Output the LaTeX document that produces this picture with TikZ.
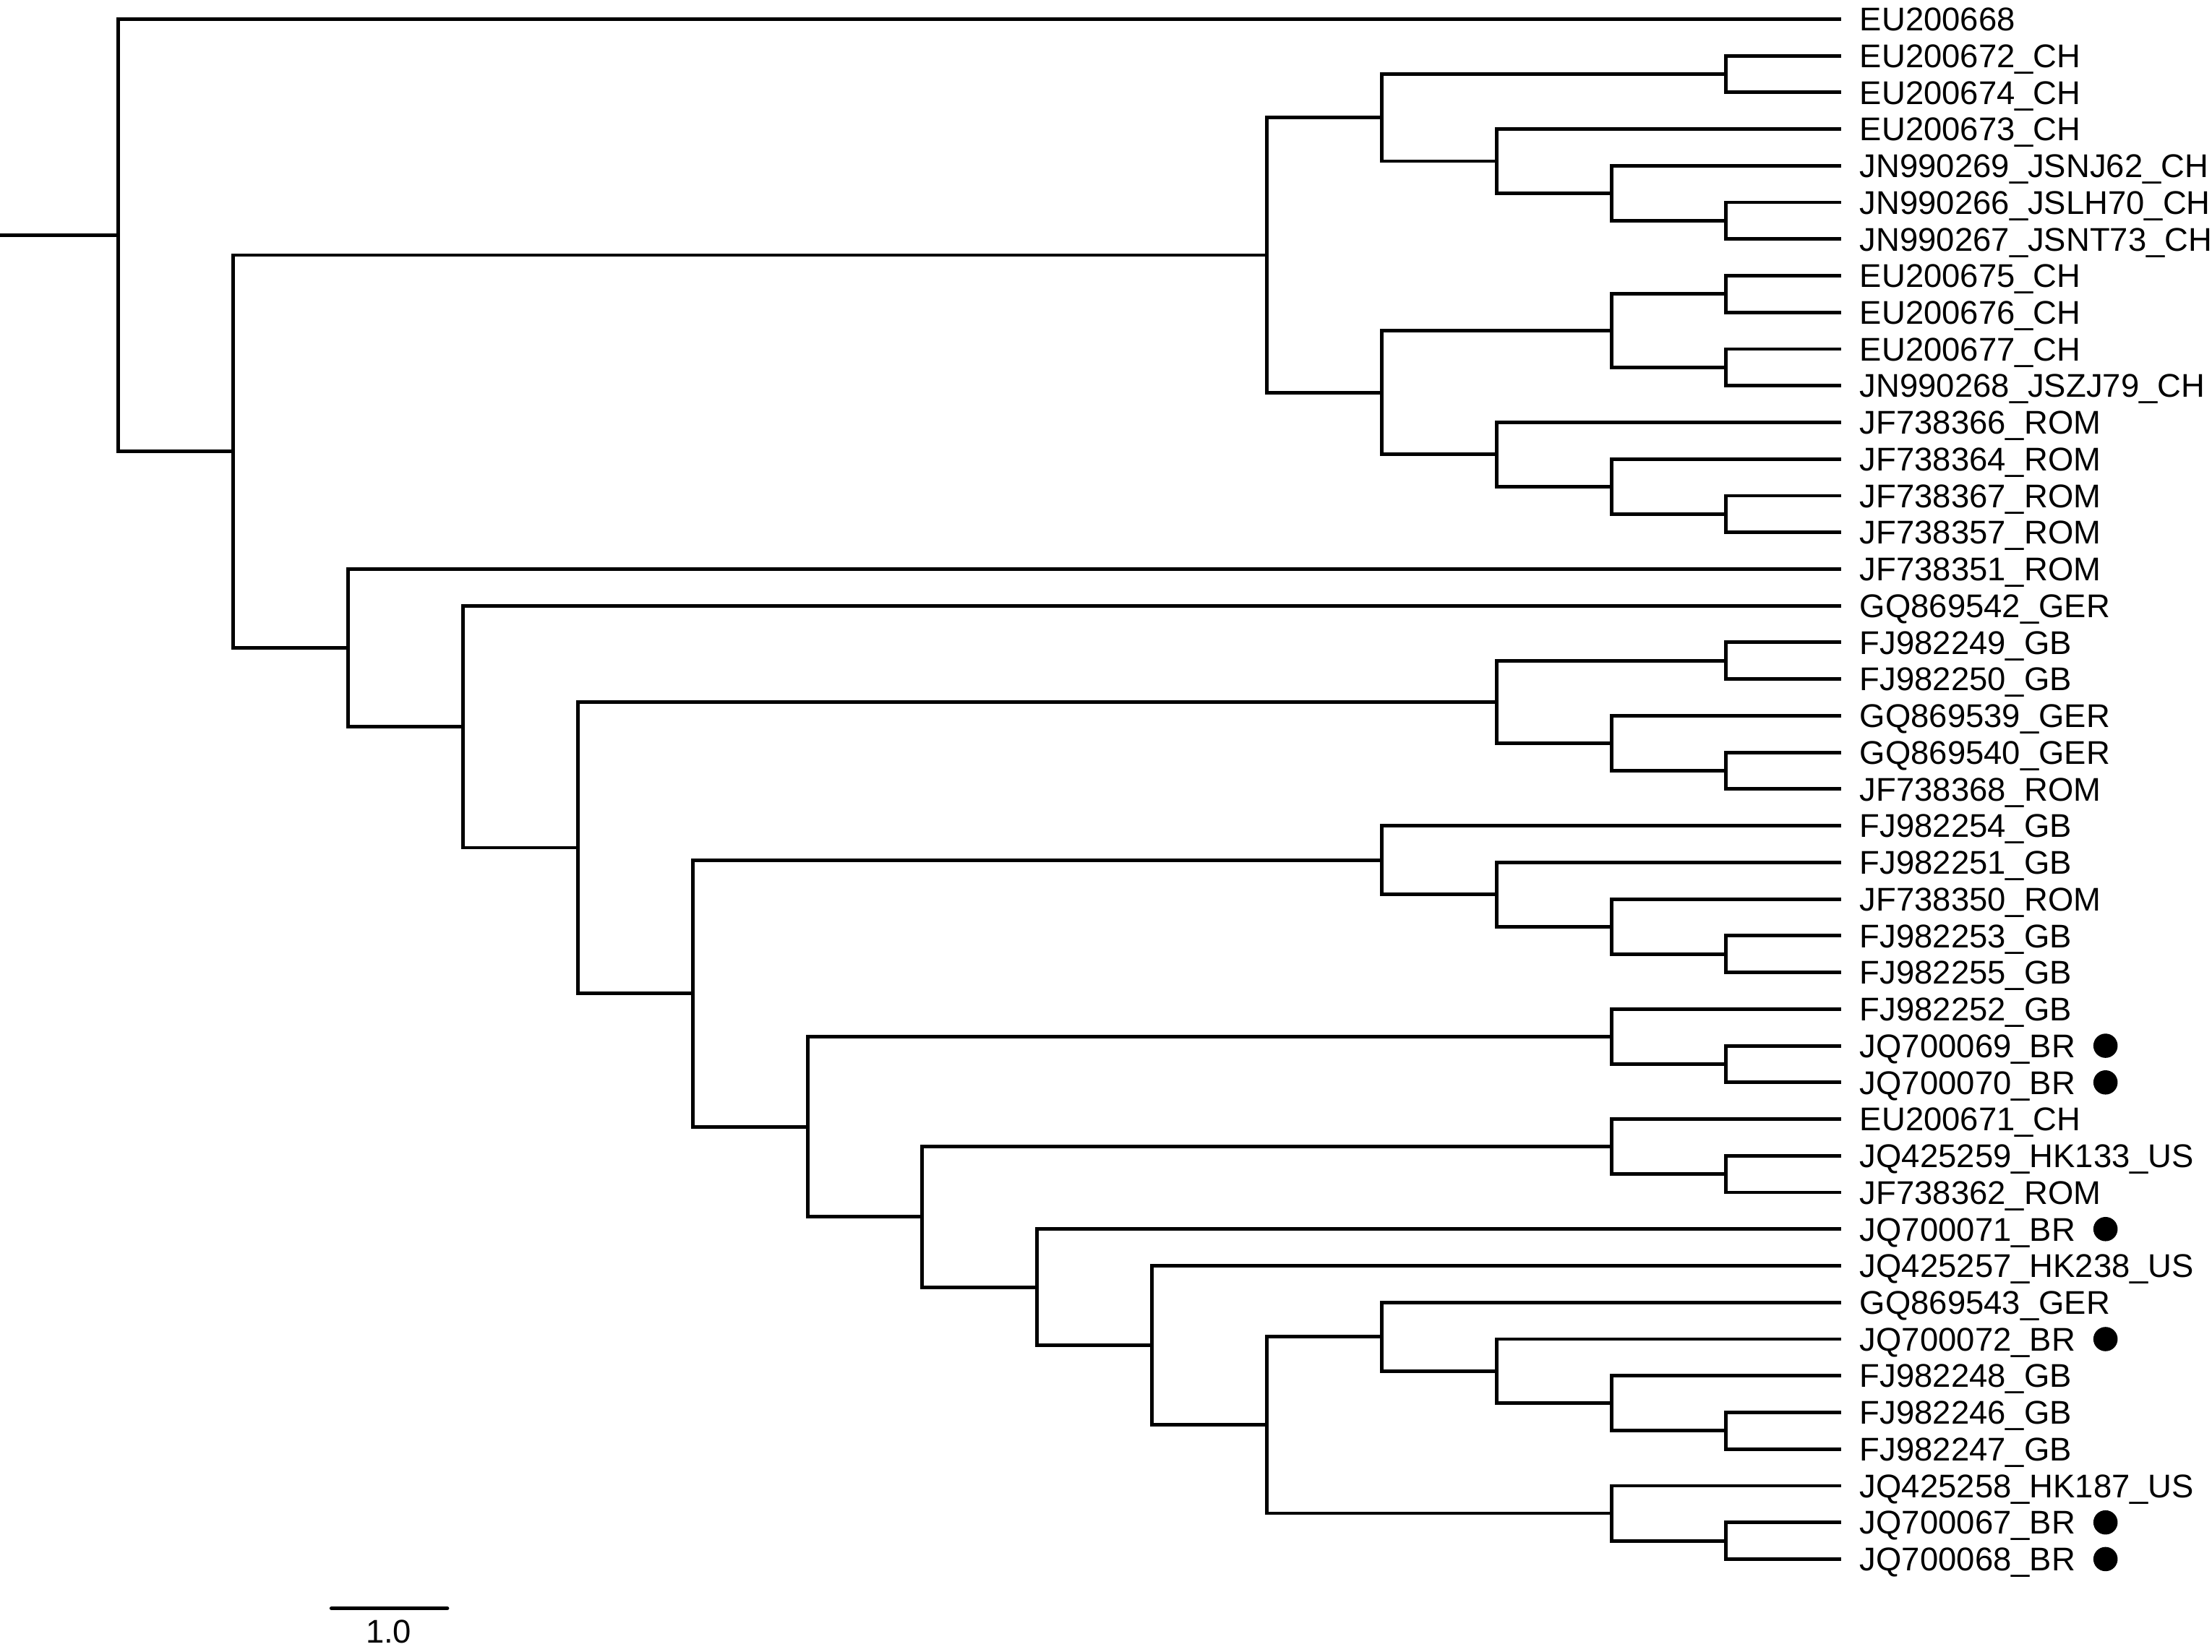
\documentclass[tikz,border=0pt]{standalone}
\usepackage{fontspec}
\setmainfont{Liberation Sans}
\begin{document}
\begin{tikzpicture}[x=0.5pt,y=-0.5pt,
  edge/.style={line width=1.25pt, line join=miter},
  lab/.style={anchor=west, inner xsep=6.5pt, inner ysep=0pt, text height=8.33pt, text depth=0pt, font=\fontsize{11.64}{14}\selectfont},
  dotnode/.style={circle, fill=black, inner sep=0pt, minimum size=8.6pt},
  barlab/.style={anchor=base, inner sep=0pt, font=\fontsize{11.64}{14}\selectfont}]
\useasboundingbox (0,0) rectangle (1568,1171);
\begin{scope}[shift={(0,0.5)}]
% leaves
\foreach \i/\t in {1/EU200668, 2/EU200672\_CH, 3/EU200674\_CH, 4/EU200673\_CH, 5/JN990269\_JSNJ62\_CH,
  6/JN990266\_JSLH70\_CH, 7/JN990267\_JSNT73\_CH, 8/EU200675\_CH, 9/EU200676\_CH, 10/EU200677\_CH,
  11/JN990268\_JSZJ79\_CH, 12/JF738366\_ROM, 13/JF738364\_ROM, 14/JF738367\_ROM, 15/JF738357\_ROM,
  16/JF738351\_ROM, 17/GQ869542\_GER, 18/FJ982249\_GB, 19/FJ982250\_GB, 20/GQ869539\_GER,
  21/GQ869540\_GER, 22/JF738368\_ROM, 23/FJ982254\_GB, 24/FJ982251\_GB, 25/JF738350\_ROM,
  26/FJ982253\_GB, 27/FJ982255\_GB, 28/FJ982252\_GB, 29/JQ700069\_BR, 30/JQ700070\_BR,
  31/EU200671\_CH, 32/JQ425259\_HK133\_US, 33/JF738362\_ROM, 34/JQ700071\_BR, 35/JQ425257\_HK238\_US,
  36/GQ869543\_GER, 37/JQ700072\_BR, 38/FJ982248\_GB, 39/FJ982246\_GB, 40/FJ982247\_GB,
  41/JQ425258\_HK187\_US, 42/JQ700067\_BR, 43/JQ700068\_BR}{
  \coordinate (t\i) at (1305,{13+26*(\i-1)});
  \node[lab] (lab\i) at (t\i) {\t};
}
% marked leaves
\foreach \i in {29,30,34,37,42,43}{
  \node[dotnode] (d\i) at (1492.5,{13+26*(\i-1)}) {};
}
% internal nodes
\coordinate (stub) at (0,166.3);
\coordinate (root) at (84,166.3);
\coordinate (a2x43) at (165.4,319.64);
\coordinate (a2x15) at (898,180.375);
\coordinate (a2x7) at (979.4,82.875);
\coordinate (a2x3) at (1223.6,52);
\coordinate (a4x7) at (1060.8,113.75);
\coordinate (a5x7) at (1142.2,136.5);
\coordinate (a6x7) at (1223.6,156);
\coordinate (a8x15) at (979.4,277.875);
\coordinate (a8x11) at (1142.2,234);
\coordinate (a8x9) at (1223.6,208);
\coordinate (a10x11) at (1223.6,260);
\coordinate (a12x15) at (1060.8,321.75);
\coordinate (a13x15) at (1142.2,344.5);
\coordinate (a14x15) at (1223.6,364);
\coordinate (a16x43) at (246.8,458.9);
\coordinate (a17x43) at (328.2,514.79);
\coordinate (a18x43) at (409.6,600.58);
\coordinate (a18x22) at (1060.8,497.25);
\coordinate (a18x19) at (1223.6,468);
\coordinate (a20x22) at (1142.2,526.5);
\coordinate (a21x22) at (1223.6,546);
\coordinate (a23x43) at (491,703.9);
\coordinate (a23x27) at (979.4,609.375);
\coordinate (a24x27) at (1060.8,633.75);
\coordinate (a25x27) at (1142.2,656.5);
\coordinate (a26x27) at (1223.6,676);
\coordinate (a28x43) at (572.4,798.43);
\coordinate (a28x30) at (1142.2,734.5);
\coordinate (a29x30) at (1223.6,754);
\coordinate (a31x43) at (653.8,862.37);
\coordinate (a31x33) at (1142.2,812.5);
\coordinate (a32x33) at (1223.6,832);
\coordinate (a34x43) at (735.2,912.23);
\coordinate (a35x43) at (816.6,953.47);
\coordinate (a36x43) at (898,1009.94);
\coordinate (a36x40) at (979.4,947.375);
\coordinate (a37x40) at (1060.8,971.75);
\coordinate (a38x40) at (1142.2,994.5);
\coordinate (a39x40) at (1223.6,1014);
\coordinate (a41x43) at (1142.2,1072.5);
\coordinate (a42x43) at (1223.6,1092);
% edges
\draw[edge] (stub) -- (root);
\draw[edge] (root) |- (t1);
\draw[edge] (root) |- (a2x43);
\draw[edge] (a2x43) |- (a2x15);
\draw[edge] (a2x43) |- (a16x43);
% CH / ROM clade
\draw[edge] (a2x15) |- (a2x7);
\draw[edge] (a2x15) |- (a8x15);
\draw[edge] (a2x7) |- (a2x3);
\draw[edge] (a2x7) |- (a4x7);
\draw[edge] (a2x3) |- (t2);
\draw[edge] (a2x3) |- (t3);
\draw[edge] (a4x7) |- (t4);
\draw[edge] (a4x7) |- (a5x7);
\draw[edge] (a5x7) |- (t5);
\draw[edge] (a5x7) |- (a6x7);
\draw[edge] (a6x7) |- (t6);
\draw[edge] (a6x7) |- (t7);
\draw[edge] (a8x15) |- (a8x11);
\draw[edge] (a8x15) |- (a12x15);
\draw[edge] (a8x11) |- (a8x9);
\draw[edge] (a8x11) |- (a10x11);
\draw[edge] (a8x9) |- (t8);
\draw[edge] (a8x9) |- (t9);
\draw[edge] (a10x11) |- (t10);
\draw[edge] (a10x11) |- (t11);
\draw[edge] (a12x15) |- (t12);
\draw[edge] (a12x15) |- (a13x15);
\draw[edge] (a13x15) |- (t13);
\draw[edge] (a13x15) |- (a14x15);
\draw[edge] (a14x15) |- (t14);
\draw[edge] (a14x15) |- (t15);
% lower part
\draw[edge] (a16x43) |- (t16);
\draw[edge] (a16x43) |- (a17x43);
\draw[edge] (a17x43) |- (t17);
\draw[edge] (a17x43) |- (a18x43);
\draw[edge] (a18x43) |- (a18x22);
\draw[edge] (a18x43) |- (a23x43);
\draw[edge] (a18x22) |- (a18x19);
\draw[edge] (a18x22) |- (a20x22);
\draw[edge] (a18x19) |- (t18);
\draw[edge] (a18x19) |- (t19);
\draw[edge] (a20x22) |- (t20);
\draw[edge] (a20x22) |- (a21x22);
\draw[edge] (a21x22) |- (t21);
\draw[edge] (a21x22) |- (t22);
\draw[edge] (a23x43) |- (a23x27);
\draw[edge] (a23x43) |- (a28x43);
\draw[edge] (a23x27) |- (t23);
\draw[edge] (a23x27) |- (a24x27);
\draw[edge] (a24x27) |- (t24);
\draw[edge] (a24x27) |- (a25x27);
\draw[edge] (a25x27) |- (t25);
\draw[edge] (a25x27) |- (a26x27);
\draw[edge] (a26x27) |- (t26);
\draw[edge] (a26x27) |- (t27);
\draw[edge] (a28x43) |- (a28x30);
\draw[edge] (a28x43) |- (a31x43);
\draw[edge] (a28x30) |- (t28);
\draw[edge] (a28x30) |- (a29x30);
\draw[edge] (a29x30) |- (t29);
\draw[edge] (a29x30) |- (t30);
\draw[edge] (a31x43) |- (a31x33);
\draw[edge] (a31x43) |- (a34x43);
\draw[edge] (a31x33) |- (t31);
\draw[edge] (a31x33) |- (a32x33);
\draw[edge] (a32x33) |- (t32);
\draw[edge] (a32x33) |- (t33);
\draw[edge] (a34x43) |- (t34);
\draw[edge] (a34x43) |- (a35x43);
\draw[edge] (a35x43) |- (t35);
\draw[edge] (a35x43) |- (a36x43);
\draw[edge] (a36x43) |- (a36x40);
\draw[edge] (a36x43) |- (a41x43);
\draw[edge] (a36x40) |- (t36);
\draw[edge] (a36x40) |- (a37x40);
\draw[edge] (a37x40) |- (t37);
\draw[edge] (a37x40) |- (a38x40);
\draw[edge] (a38x40) |- (t38);
\draw[edge] (a38x40) |- (a39x40);
\draw[edge] (a39x40) |- (t39);
\draw[edge] (a39x40) |- (t40);
\draw[edge] (a41x43) |- (t41);
\draw[edge] (a41x43) |- (a42x43);
\draw[edge] (a42x43) |- (t42);
\draw[edge] (a42x43) |- (t43);
\end{scope}
% scale bar
\coordinate (barL) at (235,1140.5);
\coordinate (barR) at (317,1140.5);
\draw[line width=1.4pt, line cap=round] (barL) -- (barR);
\node[barlab] (barlabel) at (275.5,1165) {1.0};
\end{tikzpicture}
\end{document}
